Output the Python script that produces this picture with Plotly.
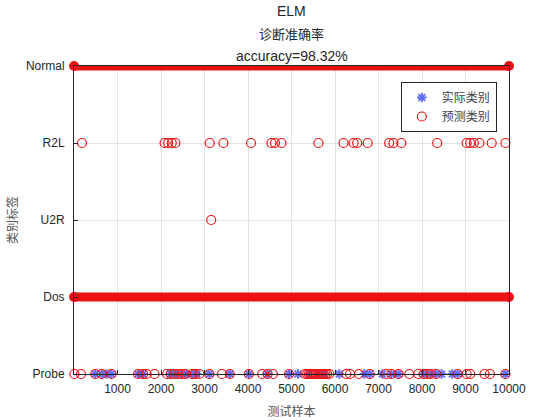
import plotly.graph_objects as go

# 类别标签 (y = 1..5)
class_names = ["Probe", "Dos", "U2R", "R2L", "Normal"]
class_ticks = [1, 2, 3, 4, 5]
x_ticks = [1000, 2000, 3000, 4000, 5000, 6000, 7000, 8000, 9000, 10000]
x_tick_text = ["1000", "2000", "3000", "4000", "5000", "6000", "7000", "8000", "9000", "10000"]

# 连续样本段 (Normal / Dos 几乎覆盖全部测试样本)
normal_span = [1, 10000]
dos_span = [1, 10000]

# 实际类别 (可见的蓝色星号, Probe)
probe_true_x = [490, 638, 745, 861, 1471, 1587, 2222, 2346, 2469, 2593, 2717, 2824,
                3113, 3583, 4020, 4449, 4944, 5150, 5400, 5600, 5750, 6098, 6676,
                6799, 7088, 7294, 7459, 8037, 8202, 8326, 8449, 8697, 8820, 9917]

# 预测类别 (红色圆圈)
probe_pred_x = [10, 160, 490, 638, 861, 1471, 1587, 1669, 1851, 2139, 2222, 2300,
                2400, 2469, 2550, 2717, 2780, 2882, 3113, 3401, 3583, 4020, 4325,
                4449, 4573, 4944, 5315, 5360, 5400, 5440, 5480, 5520, 5560, 5600,
                5650, 5700, 5740, 5780, 5820, 5870, 6263, 6346, 6552, 6799, 7171,
                7294, 7459, 7707, 7913, 8037, 8120, 8202, 8326, 8820, 9026, 9108,
                9438, 9562, 9917]
r2l_pred_x = [184, 2082, 2165, 2247, 2330, 3120, 3435, 4069, 4540, 4621, 4770, 5620,
              6197, 6429, 6510, 6751, 7245, 7344, 7525, 8350, 9026, 9108, 9191,
              9322, 9602, 9917]
u2r_pred_x = [3153]

RED = "#ee1111"
BLUE = "#0000c8"

fig = go.Figure()

# 实际类别
fig.add_trace(go.Scatter(
    x=probe_true_x, y=[1] * len(probe_true_x), mode="markers",
    name="实际类别", cliponaxis=False,
    marker=dict(symbol="asterisk-open", size=8, line=dict(color=BLUE, width=2))
))

# 预测类别
pred_x = probe_pred_x + r2l_pred_x + u2r_pred_x
pred_y = [1] * len(probe_pred_x) + [4] * len(r2l_pred_x) + [3] * len(u2r_pred_x)
fig.add_trace(go.Scatter(
    x=pred_x, y=pred_y, mode="markers", name="预测类别", cliponaxis=False,
    marker=dict(symbol="circle-open", size=9, color=RED, line=dict(color=RED, width=1.2))
))

# Normal / Dos 密集红圈带
for span, yv in [(normal_span, 5), (dos_span, 2)]:
    fig.add_trace(go.Scatter(
        x=span, y=[yv, yv], mode="lines+markers", showlegend=False, cliponaxis=False,
        line=dict(color=RED, width=9),
        marker=dict(symbol="circle", size=10, color=RED)
    ))

# 三行标题
titles = [("ELM", 11, "Liberation Sans", 14),
          ("诊断准确率", 34, "Noto Sans CJK SC", 13),
          ("accuracy=98.32%", 56, "Liberation Sans", 14)]
for txt, ypx, fam, sz in titles:
    fig.add_annotation(text=txt, x=0.5, xref="paper", y=(374 - ypx) / 308,
                       yref="paper", showarrow=False, yanchor="middle",
                       font=dict(family=fam, size=sz, color="#262626"))

axis_common = dict(showline=True, linecolor="#262626", linewidth=1, mirror=True,
                   ticks="inside", ticklen=4, tickcolor="#262626", automargin=False,
                   showgrid=True, gridcolor="#e3e3e3", zeroline=False,
                   tickfont=dict(family="Liberation Sans", size=12, color="#262626"))

fig.update_layout(
    width=560, height=420,
    margin=dict(l=74, r=51, t=66, b=46),
    plot_bgcolor="white", paper_bgcolor="white",
    xaxis=dict(range=[0, 10000], tickvals=x_ticks, ticktext=x_tick_text,
               ticklabelstandoff=4,
               title=dict(text="测试样本", standoff=12,
                          font=dict(family="Noto Sans CJK SC", size=12, color="#555555")),
               **axis_common),
    yaxis=dict(range=[1, 5], tickvals=class_ticks, ticktext=class_names,
               ticklabelstandoff=6,
               title=dict(text="类别标签", standoff=5,
                          font=dict(family="Noto Sans CJK SC", size=12, color="#555555")),
               **axis_common),
    legend=dict(x=0.972, y=0.948, xanchor="right", yanchor="top",
                bgcolor="white", bordercolor="#262626", borderwidth=1,
                font=dict(family="Noto Sans CJK SC", size=12, color="#444444"),
                tracegroupgap=0, itemwidth=30),
    showlegend=True,
)

# 去掉页面默认边距, 让图从左上角开始
fig.write_html("out.html", config={"displayModeBar": False},
               post_script="document.body.style.margin = '0';")
